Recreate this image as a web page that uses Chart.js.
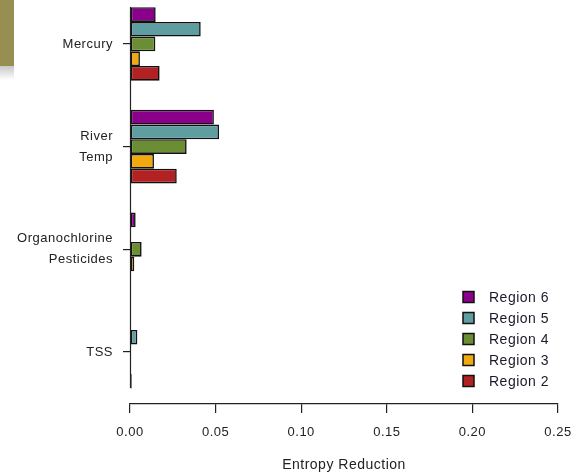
<!DOCTYPE html>
<html>
<head>
<meta charset="utf-8">
<script src="https://cdn.jsdelivr.net/npm/chart.js@4/dist/chart.umd.min.js"></script>
<style>
  html, body { margin: 0; padding: 0; background: #fff; }
  #wrap { position: relative; width: 573px; height: 476px; }
  #tab { position: absolute; left: 0; top: 0; width: 14px; height: 66px; background: #978e52; }
  #tabShade { position: absolute; left: 0; top: 66px; width: 14px; height: 14px;
    background: linear-gradient(#c8c8c8, #ffffff); }
  canvas { position: absolute; left: 0; top: 0; }
</style>
</head>
<body>
<div id="wrap">
  <div id="tab"></div>
  <div id="tabShade"></div>
  <canvas id="c" width="573" height="476"></canvas>
</div>
<script>
// Stressor categories (top to bottom) and their axis labels
const categories = ['Mercury', 'River Temp', 'Organochlorine Pesticides', 'TSS'];
const categoryLabels = [['Mercury'], ['River', 'Temp'], ['Organochlorine', 'Pesticides'], ['TSS']];

// Entropy reduction per region, one value per category
const region6 = [0.015, 0.049, 0.0033, 0];
const region5 = [0.0413, 0.052, 0, 0.0043];
const region4 = [0.0148, 0.0331, 0.0068, 0];
const region3 = [0.0058, 0.014, 0.0025, 0];
const region2 = [0.0173, 0.0273, 0, 0.001];

const xTicks = [0, 0.05, 0.10, 0.15, 0.20, 0.25];

const seriesNames = ['Region 6', 'Region 5', 'Region 4', 'Region 3', 'Region 2'];
const seriesColors = ['#8b008b', '#5f9ea0', '#6b8e35', '#f0aa10', '#b22222'];
const seriesValues = [region6, region5, region4, region3, region2];

const datasets = seriesValues.map((vals, i) => ({
  label: seriesNames[i],
  data: vals.map((v, k) => ({ x: v, y: k })),
  backgroundColor: seriesColors[i],
  borderColor: '#111',
  borderWidth: 1.6,
  borderSkipped: false,
  categoryPercentage: 0.716,
  barPercentage: 1.0
}));

const FONT = 'Liberation Sans, Arial, sans-serif';

// Slightly spaced-out lettering for all chart text
const spacing = {
  id: 'spacing',
  beforeDraw(chart) { chart.ctx.letterSpacing = '0.5px'; },
  afterDraw(chart) { chart.ctx.letterSpacing = '0px'; }
};

// Vertical axis line spanning the bar groups, plus an in-plot legend
const extras = {
  id: 'extras',
  afterDraw(chart) {
    const ctx = chart.ctx;
    const y = chart.scales.y, x = chart.scales.x;
    ctx.save();
    ctx.strokeStyle = '#222';
    ctx.lineWidth = 1.2;
    ctx.beginPath();
    const x0 = Math.round(x.getPixelForValue(0)) + 0.5;
    ctx.moveTo(x0, y.getPixelForValue(-0.36));
    ctx.lineTo(x0, y.getPixelForValue(3.35));
    ctx.stroke();

    // legend
    ctx.letterSpacing = '0.5px';
    ctx.font = '14px ' + FONT;
    ctx.textBaseline = 'middle';
    ctx.textAlign = 'left';
    chart.data.datasets.forEach((ds, i) => {
      const cy = 297 + i * 21;
      ctx.fillStyle = ds.backgroundColor;
      ctx.fillRect(463, cy - 5.5, 11, 11);
      ctx.strokeStyle = '#111';
      ctx.lineWidth = 1.5;
      ctx.strokeRect(463, cy - 5.5, 11, 11);
      ctx.fillStyle = '#1a1a2a';
      ctx.fillText(ds.label, 489, cy + 1);
    });
    ctx.restore();
  }
};

new Chart(document.getElementById('c'), {
  type: 'bar',
  data: { datasets },
  plugins: [spacing, extras],
  options: {
    responsive: false,
    animation: false,
    indexAxis: 'y',
    layout: { padding: { left: 0, right: 15, top: 7, bottom: 0 } },
    plugins: { legend: { display: false }, tooltip: { enabled: false } },
    scales: {
      x: {
        type: 'linear',
        min: 0, max: 0.25,
        afterBuildTicks: (s) => { s.ticks = xTicks.map(v => ({ value: v })); },
        grid: { display: true, drawOnChartArea: false, tickLength: 9, color: '#222', lineWidth: 1.2 },
        border: { display: true, color: '#222', width: 1.2 },
        ticks: { color: '#222', font: { family: FONT, size: 13 }, padding: 12,
                 callback: (v) => v.toFixed(2), maxRotation: 0 },
        title: { display: true, text: 'Entropy Reduction', color: '#222',
                 font: { family: FONT, size: 14 }, padding: { top: 10, bottom: 2 } },
        afterFit: (s) => { s.height = 72; s.paddingLeft = 0; s.paddingRight = 0; }
      },
      y: {
        type: 'linear',
        reverse: true,
        offset: false,
        min: -0.36, max: 3.507,
        afterBuildTicks: (s) => { s.ticks = categories.map((c, i) => ({ value: i })); },
        grid: { display: true, offset: false, drawOnChartArea: false, tickLength: 7, color: '#222', lineWidth: 1.2 },
        border: { display: false },
        ticks: { color: '#222', font: { family: FONT, size: 13, lineHeight: 1.6 }, padding: 10,
                 callback: (v) => categoryLabels[v] },
        afterFit: (s) => { s.width = 130; s.paddingTop = 0; s.paddingBottom = 0; }
      }
    }
  }
});
</script>
</body>
</html>
